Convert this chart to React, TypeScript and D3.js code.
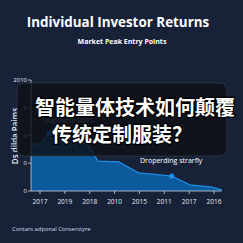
import React from "react";
import * as d3 from "d3";

const xLabels = ["2017", "2019", "2018", "2010", "2015", "2011", "2017", "2016"];
const yTickValues = [0, 1, 2, 3, 4];
const yTickLabels = ["0", "0", "0", "0", "2010"];
const seriesX = [-0.36, 0, 0.36, 1.2, 1.9, 2.33, 3.17, 3.98, 5.3, 6.03, 6.91, 7.31];
const seriesY = [1.69, 1.69, 2.09, 2.0, 1.7, 1.08, 1.05, 0.65, 0.54, 0.22, 0.14, 0.04];
const markerIdx = [2, 8];

export default function App() {
  const W = 243, H = 243;
  const x = d3.scaleLinear().domain([0, 7]).range([40, 214]);
  const y = d3.scaleLinear().domain([0, 4]).range([191, 80]);
  const pts = seriesX.map((v, i) => [v, seriesY[i]] as [number, number]);
  const area = d3.area<[number, number]>().x(d => x(d[0])).y0(y(0)).y1(d => y(d[1]))(pts) || "";
  const line = d3.line<[number, number]>().x(d => x(d[0])).y(d => y(d[1]))(pts) || "";
  const x0 = x(-0.36), x1 = x(7.31);
  return (
    <svg width={W} height={H} style={{ position: "absolute", left: 0, top: 0, fontFamily: "'Open Sans', sans-serif" }}>
      <rect width={W} height={H} fill="#172239" />
      <text x={118} y={27} textAnchor="middle" fill="#fff" fontSize={13.4} fontWeight={700}>Individual Investor Returns</text>
      <text x={122} y={44} textAnchor="middle" fill="#fff" fontSize={7} fontWeight={700}>Market Peak Entry Points</text>
      <path d={area} fill="#0b5a9c" />
      <path d={line} fill="none" stroke="#1f8ee8" strokeWidth={1.3} />
      {markerIdx.map(i => (
        <circle key={i} cx={x(seriesX[i])} cy={y(seriesY[i])} r={2.6} fill="#1f8ee8" />
      ))}
      <line x1={x0} x2={x0} y1={y(4)} y2={y(0)} stroke="#c9d3df" strokeWidth={0.8} />
      <line x1={x0} x2={x1} y1={y(0)} y2={y(0)} stroke="#c9d3df" strokeWidth={0.8} />
      {yTickValues.map((v, i) => (
        <g key={i}>
          <line x1={x0 - 3} x2={x0} y1={y(v)} y2={y(v)} stroke="#c9d3df" strokeWidth={0.8} />
          <text x={x0 - 4} y={y(v) + 2} textAnchor="end" fill="#e6ebf2" fontSize={6}>{yTickLabels[i]}</text>
        </g>
      ))}
      {xLabels.map((l, i) => (
        <g key={i}>
          <line x1={x(i)} x2={x(i)} y1={y(0)} y2={y(0) + 3} stroke="#c9d3df" strokeWidth={0.8} />
          <text x={x(i)} y={204} textAnchor="middle" fill="#e6ebf2" fontSize={6.5}>{l}</text>
        </g>
      ))}
      <text transform="translate(18,136) rotate(-90)" textAnchor="middle" fill="#e6ebf2" fontSize={8} fontWeight={600}>Ds dilda Paims</text>
      <text x={42} y={123} fill="#9aa6b8" fontSize={7}>Leaping in 2021</text>
      <text x={140} y={163} fill="#ffffff" fontSize={7}>Droperding strarfly</text>
      <text x={12} y={231} fill="#d6dce6" fontSize={5.8}>Contars adponal Conserstyre</text>
      <rect x={17} y={83} width={210} height={73} rx={7} fill="#0d1016" fillOpacity={0.82} stroke="#3a4250" strokeWidth={0.6} />
      <g fontFamily="'Noto Sans CJK SC', sans-serif" fontWeight={700} fontSize={20} fill="#fff" stroke="#000" strokeWidth={2.4} paintOrder="stroke">
        <text x={35} y={115}>智能量体技术如何颠覆</text>
        <text x={52} y={142}>传统定制服装？</text>
      </g>
    </svg>
  );
}
